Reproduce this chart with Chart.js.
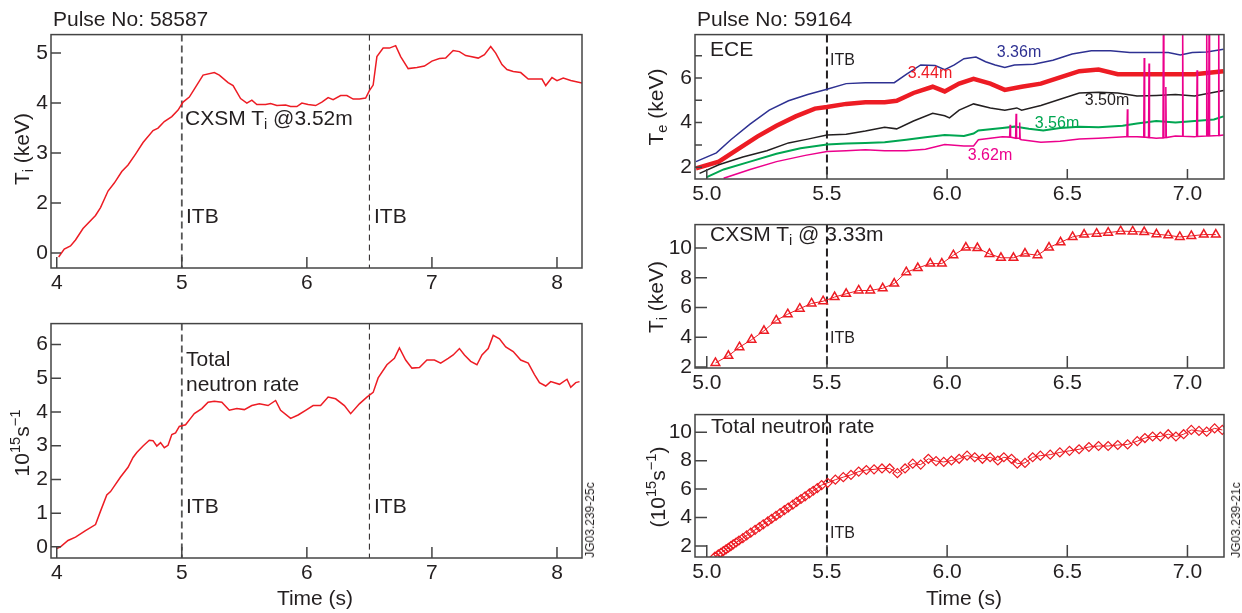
<!DOCTYPE html>
<html lang="en">
<head>
<meta charset="UTF-8">
<title>ITB onset: pulses 58587 and 59164</title>
<script src="https://cdn.jsdelivr.net/npm/chart.js@4"></script>
<style>
  body { margin: 0; background: #fff; }
  #page { position: relative; width: 1242px; height: 613px; overflow: hidden;
          font-family: 'Liberation Sans', Arial, sans-serif; color: #231f20; }
  canvas { position: absolute; }
  .t { position: absolute; font-size: 21px; line-height: 1; white-space: nowrap; }
  .s { font-size: 16px; }
  .c { transform: translateX(-50%); }
  .v { transform: translate(-50%, -50%) rotate(-90deg); }
  .jg { font-size: 12px; }
  sub { font-size: 70%; vertical-align: -0.3em; line-height: 0; }
  sup { font-size: 70%; vertical-align: 0.55em; line-height: 0; }
</style>
</head>
<body>
<div id="page">
  <!-- left: pulse 58587 -->
  <div class="t" style="left:53px;top:8px">Pulse No: 58587</div>
  <div class="t" style="left:185px;top:107px">CXSM T<sub>i</sub> @3.52m</div>
  <div class="t" style="left:186px;top:205px">ITB</div>
  <div class="t" style="left:374px;top:205px">ITB</div>
  <div class="t" style="left:186px;top:348px">Total</div>
  <div class="t" style="left:186px;top:373px">neutron rate</div>
  <div class="t" style="left:186px;top:495px">ITB</div>
  <div class="t" style="left:374px;top:495px">ITB</div>
  <div class="t c" style="left:315px;top:587px">Time (s)</div>
  <div class="t v" style="left:21px;top:149px">T<sub>i</sub> (keV)</div>
  <div class="t v" style="left:21px;top:443px">10<sup>15</sup>s<sup>−1</sup></div>
  <div class="t v jg" style="left:590px;top:520px">JG03.239-25c</div>

  <!-- right: pulse 59164 -->
  <div class="t" style="left:697px;top:8px">Pulse No: 59164</div>
  <div class="t" style="left:710px;top:38px">ECE</div>
  <div class="t s" style="left:830px;top:52px">ITB</div>
  <div class="t s c" style="left:1019px;top:44px;color:#2e3192">3.36m</div>
  <div class="t s c" style="left:930px;top:65px;color:#ed1c24">3.44m</div>
  <div class="t s c" style="left:1107px;top:92px;color:#231f20">3.50m</div>
  <div class="t s c" style="left:1057px;top:115px;color:#00a651">3.56m</div>
  <div class="t s c" style="left:990px;top:147px;color:#ec008c">3.62m</div>
  <div class="t" style="left:710px;top:223px">CXSM T<sub>i</sub> @ 3.33m</div>
  <div class="t s" style="left:830px;top:330px">ITB</div>
  <div class="t" style="left:711px;top:415px">Total neutron rate</div>
  <div class="t s" style="left:830px;top:525px">ITB</div>
  <div class="t c" style="left:964px;top:587px">Time (s)</div>
  <div class="t v" style="left:655px;top:107px">T<sub>e</sub> (keV)</div>
  <div class="t v" style="left:655px;top:297px">T<sub>i</sub> (keV)</div>
  <div class="t v" style="left:657px;top:487px">(10<sup>15</sup>s<sup>−1</sup>)</div>
  <div class="t v jg" style="left:1236px;top:520px">JG03.239-21c</div>
</div>

<script>
// ---- pulse 58587 ----
const ti58587Time = [4.015,4.06,4.11,4.15,4.21,4.31,4.35,4.41,4.46,4.52,4.57,4.63,4.69,4.77,4.81,4.86,4.92,4.97,5.01,5.06,
  5.10,5.17,5.26,5.30,5.37,5.41,5.47,5.52,5.56,5.60,5.67,5.71,5.76,5.83,5.87,5.92,5.96,6.01,6.07,6.12,
  6.17,6.21,6.27,6.32,6.37,6.42,6.47,6.50,6.53,6.56,6.61,6.66,6.71,6.75,6.81,6.88,6.94,7.00,7.06,7.11,
  7.17,7.22,7.27,7.31,7.37,7.42,7.47,7.51,7.56,7.60,7.65,7.71,7.77,7.83,7.88,7.91,7.96,8.00,8.05,8.11,8.20];
const ti58587 = [0.92,1.08,1.14,1.26,1.49,1.75,1.91,2.24,2.40,2.63,2.76,2.98,3.21,3.45,3.50,3.63,3.73,3.86,4.02,4.12,
  4.28,4.56,4.61,4.56,4.41,4.35,4.09,4.00,4.06,3.97,3.97,3.99,3.95,3.96,3.93,3.93,4.00,3.97,3.95,4.02,
  4.11,4.07,4.15,4.15,4.08,4.08,4.10,4.25,4.36,4.93,5.10,5.10,5.15,4.93,4.69,4.71,4.74,4.84,4.89,4.90,
  5.05,5.03,4.95,4.93,4.90,4.97,5.13,5.00,4.77,4.67,4.63,4.61,4.48,4.48,4.48,4.35,4.51,4.45,4.50,4.45,4.40];

const rn58587Time = [4.0,4.03,4.09,4.15,4.23,4.31,4.35,4.40,4.43,4.51,4.57,4.61,4.64,4.69,4.74,4.77,4.80,4.83,4.86,4.89,
  4.92,4.95,4.98,5.03,5.07,5.10,5.16,5.21,5.26,5.32,5.38,5.44,5.50,5.56,5.62,5.69,5.75,5.79,5.87,5.93,
  5.99,6.05,6.11,6.17,6.23,6.30,6.35,6.42,6.48,6.53,6.57,6.64,6.70,6.74,6.79,6.84,6.90,6.96,7.02,7.07,
  7.13,7.17,7.22,7.26,7.31,7.36,7.40,7.45,7.49,7.54,7.59,7.65,7.71,7.77,7.82,7.86,7.91,7.95,8.02,8.08,
  8.11,8.15,8.18];
const rn58587 = [-0.05,0,0.19,0.29,0.48,0.66,1.06,1.54,1.64,2.07,2.36,2.65,2.80,2.99,3.16,3.15,2.99,3.09,2.94,3.01,
  3.33,3.38,3.57,3.62,3.81,3.95,4.10,4.29,4.32,4.29,4.05,4.10,4.07,4.19,4.24,4.19,4.34,4.05,3.81,3.91,
  4.05,4.19,4.19,4.44,4.39,4.19,3.95,4.24,4.44,4.58,5.01,5.40,5.59,5.90,5.54,5.30,5.32,5.54,5.54,5.45,
  5.59,5.69,5.88,5.69,5.50,5.40,5.69,5.88,6.27,6.17,5.93,5.79,5.54,5.45,5.11,4.87,4.77,4.90,4.82,4.97,
  4.73,4.87,4.90];

// ---- pulse 59164, ECE Te channels ----
const te336Time = [4.955,5.04,5.10,5.18,5.26,5.34,5.42,5.50,5.58,5.66,5.74,5.78,5.83,5.89,5.95,5.99,6.03,6.07,6.12,6.16,
  6.20,6.24,6.28,6.36,6.44,6.52,6.60,6.68,6.76,6.84,6.92,6.97,7.02,7.08,7.15];
const te336 = [2.25,2.64,3.23,3.93,4.56,4.98,5.26,5.50,5.75,5.79,5.79,5.79,6.17,6.59,6.56,6.38,6.59,6.87,6.94,6.73,
  6.59,6.48,6.59,6.62,6.80,7.08,7.22,7.22,7.15,7.15,7.15,7.03,7.15,7.17,7.29];
const te344Time = [4.955,5.05,5.13,5.21,5.29,5.37,5.45,5.50,5.58,5.66,5.74,5.79,5.86,5.94,5.99,6.05,6.11,6.18,6.24,6.31,
  6.39,6.47,6.55,6.63,6.71,6.79,6.87,6.95,7.03,7.15];
const te344 = [1.95,2.25,2.81,3.37,3.86,4.28,4.63,4.70,4.84,4.91,4.91,4.98,5.33,5.61,5.40,5.75,5.96,5.75,5.47,5.61,
  5.75,6.03,6.31,6.38,6.17,6.17,6.17,6.17,6.17,6.31];
const te350Time = [4.97,5.05,5.15,5.25,5.34,5.42,5.50,5.58,5.66,5.74,5.79,5.86,5.94,5.99,6.01,6.05,6.11,6.18,6.24,6.29,
  6.31,6.39,6.47,6.55,6.63,6.71,6.79,6.87,6.95,7.03,7.15];
const te350 = [1.72,2.11,2.46,2.74,3.09,3.26,3.44,3.48,3.62,3.79,3.72,4.07,4.42,4.31,4.21,4.56,4.84,4.66,4.56,4.66,
  4.56,4.77,5.05,5.33,5.36,5.33,5.19,5.22,5.26,5.19,5.44];
const te356Time = [5.00,5.07,5.18,5.29,5.39,5.50,5.58,5.66,5.74,5.83,5.91,5.99,6.07,6.11,6.13,6.23,6.28,6.34,6.40,6.47,
  6.55,6.63,6.73,6.79,6.87,6.95,7.03,7.11,7.15];
const te356 = [1.55,1.90,2.25,2.60,2.85,3.02,3.06,3.09,3.12,3.23,3.34,3.44,3.40,3.51,3.65,3.76,3.82,3.72,3.65,3.76,
  3.82,3.79,3.86,3.96,4.07,4.00,4.07,4.14,4.28];
const te362Time = [5.07,5.18,5.29,5.41,5.50,5.58,5.66,5.74,5.83,5.91,5.99,6.07,6.11,6.13,6.23,
  6.26,6.262,6.264,6.285,6.287,6.289,6.30,6.302,6.304,6.31,6.39,6.47,6.55,6.63,6.74,
  6.748,6.75,6.752,6.79,6.818,6.82,6.822,6.838,6.84,6.842,6.87,6.898,6.90,6.902,6.908,6.91,6.912,6.95,
  6.978,6.98,6.982,7.03,7.038,7.04,7.042,7.078,7.08,7.082,7.088,7.09,7.092,7.128,7.13,7.132,7.15];
const te362 = [1.50,1.90,2.25,2.53,2.70,2.74,2.78,2.74,2.74,2.81,3.02,2.95,2.95,3.23,3.37,
  3.35,3.9,3.35,3.3,4.4,3.3,3.3,4.0,3.25,3.23,3.12,3.16,3.26,3.30,3.37,
  3.37,4.6,3.37,3.37,3.35,6.9,3.35,3.33,6.65,3.33,3.30,3.32,9,3.32,3.33,5.6,3.33,3.40,
  3.39,9,3.39,3.37,3.38,6.35,3.38,3.40,9,3.40,3.40,9,3.40,3.42,9,3.42,3.44];

// ---- pulse 59164, CXSM Ti @ 3.33m ----
const ti59164Time = [5.036,5.09,5.136,5.186,5.238,5.289,5.337,5.387,5.436,5.484,5.532,5.58,5.632,5.68,5.732,
  5.78,5.83,5.878,5.93,5.978,6.026,6.078,6.126,6.176,6.224,6.276,6.324,6.376,6.424,6.472,
  6.522,6.57,6.622,6.67,6.722,6.772,6.82,6.871,6.92,6.968,7.016,7.068,7.118];
const ti59164 = [2.28,2.76,3.34,3.84,4.44,5.14,5.56,5.93,6.28,6.43,6.71,6.93,7.15,7.15,7.30,
  7.62,8.38,8.66,8.96,8.96,9.52,10.04,10.0,9.61,9.35,9.35,9.63,9.52,10.04,10.39,
  10.75,10.91,10.97,11.04,11.14,11.12,11.08,10.93,10.86,10.75,10.82,10.91,10.91];

// ---- pulse 59164, total neutron rate ----
const rn59164Time = [5.034,5.048,5.059,5.069,5.080,5.090,5.100,5.110,5.122,5.134,5.150,5.166,5.183,5.201,5.219,
  5.235,5.254,5.270,5.288,5.305,5.323,5.339,5.358,5.374,5.392,5.409,5.427,5.443,5.460,5.478,
  5.503,5.535,5.568,5.6,5.632,5.664,5.696,5.729,5.761,5.793,5.825,5.857,5.89,5.922,5.954,
  5.986,6.018,6.05,6.083,6.115,6.147,6.179,6.211,6.236,6.268,6.292,6.324,6.356,6.388,6.429,
  6.469,6.509,6.549,6.59,6.63,6.67,6.71,6.751,6.791,6.823,6.855,6.887,6.92,6.952,6.984,
  7.016,7.048,7.08,7.113,7.145];
const rn59164 = [1.24,1.40,1.52,1.63,1.76,1.87,1.98,2.11,2.24,2.38,2.55,2.74,2.93,3.13,3.33,
  3.52,3.72,3.91,4.12,4.31,4.52,4.70,4.91,5.10,5.30,5.49,5.70,5.88,6.07,6.28,
  6.44,6.66,6.84,7.0,7.23,7.34,7.39,7.45,7.45,7.12,7.45,7.79,7.72,8.13,7.97,
  7.91,8.01,8.13,8.35,8.24,8.13,8.24,8.01,8.24,8.13,7.79,7.84,8.24,8.35,8.42,
  8.58,8.69,8.80,8.96,9.03,9.03,9.10,9.14,9.37,9.59,9.70,9.70,9.86,9.70,9.86,
  10.16,10.09,10.04,10.27,10.16];

// ---- axes ----
const xTicksLeft = [4, 5, 6, 7, 8];
const xTickLabelsLeft = ['4', '5', '6', '7', '8'];
const xTicksRight = [5.0, 5.5, 6.0, 6.5, 7.0];
const xTickLabelsRight = ['5.0', '5.5', '6.0', '6.5', '7.0'];
const tiLeftTicks = [1, 2, 3, 4, 5];
const tiLeftTickLabels = ['0', '2', '3', '4', '5'];   // as printed on the original axis
const rnLeftTicks = [0, 1, 2, 3, 4, 5, 6];
const rnLeftTickLabels = ['0', '1', '2', '3', '4', '5', '6'];
const teTicks = [2, 3, 4, 5, 6, 7];
const teTickLabels = ['2', '', '4', '', '6', ''];
const evenTicks = [2, 4, 6, 8, 10];
const evenTickLabels = ['2', '4', '6', '8', '10'];
const itbLeft = [5.0, 6.5];
const itbRight = [5.5];

Chart.defaults.font.family = "'Liberation Sans', Arial, sans-serif";
Chart.defaults.color = '#231f20';

const RED = '#ed1c24';
const pts = (t, v) => t.map((x, i) => ({ x, y: v[i] }));

// box, inward ticks and the dashed ITB markers
const frameTicks = {
  id: 'frameTicks',
  beforeDatasetsDraw(chart, args, opts) {
    const { ctx, chartArea: a, scales: { x } } = chart;
    ctx.save();
    opts.itb.forEach(l => {
      const px = x.getPixelForValue(l.t);
      ctx.beginPath();
      ctx.setLineDash(l.dash);
      ctx.lineWidth = l.w;
      ctx.strokeStyle = l.c;
      ctx.moveTo(px, a.top);
      ctx.lineTo(px, a.bottom);
      ctx.stroke();
    });
    ctx.restore();
  },
  afterDraw(chart, args, opts) {
    const { ctx, chartArea: a, scales: { x, y } } = chart;
    ctx.save();
    ctx.strokeStyle = '#444';
    ctx.lineWidth = 1.5;
    ctx.strokeRect(a.left, a.top, a.right - a.left, a.bottom - a.top);
    ctx.beginPath();
    x.ticks.forEach(t => {
      const px = x.getPixelForValue(t.value);
      ctx.moveTo(px, a.bottom);
      ctx.lineTo(px, a.bottom - opts.xLen);
    });
    y.ticks.forEach(t => {
      const py = y.getPixelForValue(t.value);
      ctx.moveTo(a.left, py);
      ctx.lineTo(a.left + opts.yLen, py);
    });
    ctx.stroke();
    ctx.restore();
  }
};

const page = document.getElementById('page');

function panel(box, xr, yr, xt, xl, yt, yl, itb, datasets, tickLen) {
  const W = 50, P = 10, H = 30;
  const cv = document.createElement('canvas');
  cv.width = box[2] - box[0] + W + P;
  cv.height = box[3] - box[1] + P + H;
  cv.style.left = (box[0] - W) + 'px';
  cv.style.top = (box[1] - P) + 'px';
  page.insertBefore(cv, page.firstChild);

  new Chart(cv, {
    type: 'line',
    data: { datasets },
    options: {
      responsive: false,
      animation: false,
      devicePixelRatio: 1,
      events: [],
      layout: { padding: { top: P, right: P, left: 0, bottom: 0 }, autoPadding: false },
      plugins: {
        legend: { display: false },
        tooltip: { enabled: false },
        frameTicks: { itb, xLen: tickLen[0], yLen: tickLen[1] }
      },
      scales: {
        x: {
          type: 'linear', min: xr[0], max: xr[1],
          afterFit: s => { s.height = H; },
          afterBuildTicks: s => { s.ticks = xt.map(v => ({ value: v })); },
          ticks: { autoSkip: false, maxRotation: 0, padding: 3, font: { size: 21 }, callback: (v, i) => xl[i] },
          grid: { display: false, drawTicks: false },
          border: { display: false }
        },
        y: {
          type: 'linear', min: yr[0], max: yr[1],
          afterFit: s => { s.width = W; },
          afterBuildTicks: s => { s.ticks = yt.map(v => ({ value: v })); },
          ticks: { autoSkip: false, padding: 3, font: { size: 21 }, callback: (v, i) => yl[i] },
          grid: { display: false, drawTicks: false },
          border: { display: false }
        }
      }
    },
    plugins: [frameTicks]
  });
}

const line = (data, color, w) => ({ data, borderColor: color, borderWidth: w, pointRadius: 0, tension: 0, fill: false });
const marked = (data, style, r, bw) => ({
  data, borderColor: RED, borderWidth: 1, tension: 0, fill: false,
  pointStyle: style, pointRadius: r, pointBorderWidth: bw,
  pointBorderColor: RED, pointBackgroundColor: 'rgba(255,255,255,0)'
});

const itbL = [
  { t: itbLeft[0], dash: [7, 4], w: 1.8, c: '#555' },
  { t: itbLeft[1], dash: [6, 4], w: 1, c: '#231f20' }
];
const itbR = [{ t: itbRight[0], dash: [8, 4], w: 2, c: '#231f20' }];

// left column
panel([51, 29, 582, 268], [3.954, 8.2], [0.7, 5.37], xTicksLeft, xTickLabelsLeft, tiLeftTicks, tiLeftTickLabels,
  itbL, [line(pts(ti58587Time, ti58587), RED, 1.5)], [11, 10]);
panel([51, 318, 582, 558], [3.954, 8.2], [-0.33, 6.62], xTicksLeft, xTickLabelsLeft, rnLeftTicks, rnLeftTickLabels,
  itbL, [line(pts(rn58587Time, rn58587), RED, 1.5)], [11, 10]);

// right column
panel([695, 29, 1224, 179], [4.951, 7.152], [1.47, 7.95], xTicksRight, xTickLabelsRight, teTicks, teTickLabels,
  itbR, [
    line(pts(te362Time, te362), '#ec008c', 1.5),
    line(pts(te356Time, te356), '#00a651', 2),
    line(pts(te350Time, te350), '#231f20', 1.5),
    line(pts(te336Time, te336), '#2e3192', 1.5),
    line(pts(te344Time, te344), RED, 4.5)
  ], [10, 7]);
panel([695, 219, 1224, 368], [4.951, 7.152], [1.94, 11.58], xTicksRight, xTickLabelsRight, evenTicks, evenTickLabels,
  itbR, [marked(pts(ti59164Time, ti59164), 'triangle', 5, 1.5)], [12, 12]);
panel([695, 409, 1224, 557], [4.951, 7.152], [1.22, 11.24], xTicksRight, xTickLabelsRight, evenTicks, evenTickLabels,
  itbR, [marked(pts(rn59164Time, rn59164), 'rectRot', 4.5, 1.2)], [12, 12]);
</script>
</body>
</html>
